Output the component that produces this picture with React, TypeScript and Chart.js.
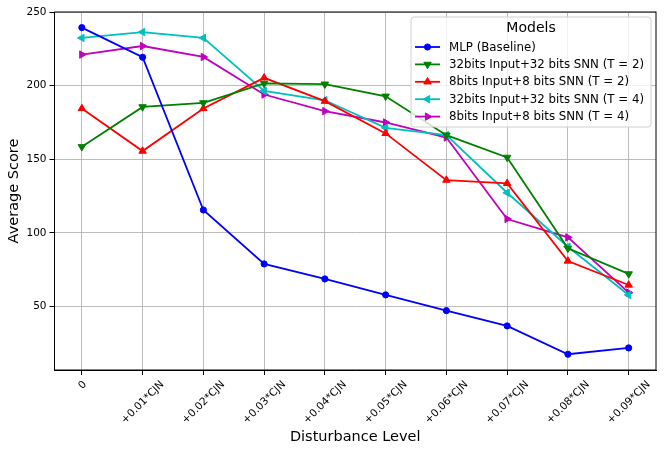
import React, { useEffect, useRef } from "react";
import { Chart, registerables } from "chart.js";

Chart.register(...registerables);

const categories = [
  "0",
  "+0.01*CJN",
  "+0.02*CJN",
  "+0.03*CJN",
  "+0.04*CJN",
  "+0.05*CJN",
  "+0.06*CJN",
  "+0.07*CJN",
  "+0.08*CJN",
  "+0.09*CJN",
];
const mlpBaseline = [239.4, 219.3, 115.6, 79, 68.8, 58, 47.3, 36.9, 17.7, 22];
const snn32T2 = [158.5, 185.6, 188.3, 201.5, 201, 192.8, 166.4, 151.3, 89.6, 72.2];
const snn8T2 = [184.5, 155.6, 184.5, 205.3, 189.5, 167.6, 135.9, 133.7, 81, 64.7];
const snn32T4 = [232.4, 236.4, 232.4, 196.4, 190.1, 171.4, 166.4, 127.3, 90.7, 57.9];
const snn8T4 = [221.1, 226.9, 219.5, 194, 182.7, 175, 164.8, 109.5, 97, 59.5];
const yTicks = [50, 100, 150, 200, 250];
const seriesLabels = [
  "MLP (Baseline)",
  "32bits Input+32 bits SNN (T = 2)",
  "8bits Input+8 bits SNN (T = 2)",
  "32bits Input+32 bits SNN (T = 4)",
  "8bits Input+8 bits SNN (T = 4)",
];
const legendTitle = "Models";

const FONT = '"DejaVu Sans", sans-serif';

function drawMarker(ctx: CanvasRenderingContext2D, style: string, rotDeg: number, r: number, x: number, y: number) {
  ctx.beginPath();
  if (style === "circle") {
    ctx.arc(x, y, r, 0, Math.PI * 2);
  } else {
    let rad = (rotDeg * Math.PI) / 180;
    const step = (2 * Math.PI) / 3;
    ctx.moveTo(x + Math.sin(rad) * r, y - Math.cos(rad) * r);
    rad += step;
    ctx.lineTo(x + Math.sin(rad) * r, y - Math.cos(rad) * r);
    rad += step;
    ctx.lineTo(x + Math.sin(rad) * r, y - Math.cos(rad) * r);
    ctx.closePath();
  }
  ctx.fill();
  ctx.stroke();
}

const frameLegendPlugin = {
  id: "frameLegend",
  afterDatasetsDraw(chart: any) {
    const { ctx, chartArea } = chart;
    const { left, right, top, bottom } = chartArea;
    ctx.save();
    ctx.strokeStyle = "#000";
    ctx.lineWidth = 1;
    ctx.strokeRect(left, top, right - left, bottom - top);

    // rotated x tick labels, centred on their ticks (matplotlib style)
    const xs = chart.scales.x;
    ctx.font = `10.5px ${FONT}`;
    ctx.fillStyle = "#000";
    ctx.textAlign = "center";
    ctx.textBaseline = "alphabetic";
    categories.forEach((lab, i) => {
      const px = xs.getPixelForValue(i);
      const m = ctx.measureText(lab);
      const asc = m.actualBoundingBoxAscent;
      const desc = m.actualBoundingBoxDescent;
      const w = m.width;
      const h = asc + desc;
      const half = (w + h) / (2 * Math.SQRT2);
      const cy = bottom + 5 + 4 + half;
      ctx.save();
      ctx.translate(px, cy);
      ctx.rotate(-Math.PI / 4);
      ctx.fillText(lab, 0, (asc - desc) / 2);
      ctx.restore();
    });

    // legend
    ctx.font = `11.8px ${FONT}`;
    const datasets = chart.data.datasets;
    const maxW = Math.max(...datasets.map((d: any) => ctx.measureText(d.label).width));
    const boxW = 38 + maxW + 7;
    const boxH = 110;
    const boxX = right - 5 - boxW;
    const boxY = top + 5;
    ctx.beginPath();
    const rr = 3;
    ctx.moveTo(boxX + rr, boxY);
    ctx.lineTo(boxX + boxW - rr, boxY);
    ctx.arcTo(boxX + boxW, boxY, boxX + boxW, boxY + rr, rr);
    ctx.lineTo(boxX + boxW, boxY + boxH - rr);
    ctx.arcTo(boxX + boxW, boxY + boxH, boxX + boxW - rr, boxY + boxH, rr);
    ctx.lineTo(boxX + rr, boxY + boxH);
    ctx.arcTo(boxX, boxY + boxH, boxX, boxY + boxH - rr, rr);
    ctx.lineTo(boxX, boxY + rr);
    ctx.arcTo(boxX, boxY, boxX + rr, boxY, rr);
    ctx.closePath();
    ctx.fillStyle = "rgba(255,255,255,0.8)";
    ctx.fill();
    ctx.strokeStyle = "#d0d0d0";
    ctx.lineWidth = 1;
    ctx.stroke();

    ctx.fillStyle = "#000";
    ctx.textAlign = "center";
    ctx.textBaseline = "middle";
    ctx.font = `14px ${FONT}`;
    ctx.fillText(legendTitle, boxX + boxW / 2, boxY + 11);

    ctx.font = `11.8px ${FONT}`;
    ctx.textAlign = "left";
    datasets.forEach((d: any, i: number) => {
      const y = boxY + 30 + i * 17.4;
      ctx.strokeStyle = d.borderColor;
      ctx.lineWidth = d.borderWidth;
      ctx.beginPath();
      ctx.moveTo(boxX + 4, y);
      ctx.lineTo(boxX + 29, y);
      ctx.stroke();
      ctx.fillStyle = d.pointBackgroundColor;
      ctx.strokeStyle = d.pointBorderColor;
      ctx.lineWidth = d.pointBorderWidth;
      drawMarker(ctx, d.pointStyle, d.pointRotation, d.pointRadius, boxX + 16.5, y);
      ctx.fillStyle = "#000";
      ctx.fillText(d.label, boxX + 38, y + 0.5);
    });
    ctx.restore();
  },
};

export default function App() {
  const canvasRef = useRef<HTMLCanvasElement | null>(null);

  useEffect(() => {
    if (!canvasRef.current) return;
    const toXY = (arr: number[]) => arr.map((v, i) => ({ x: i, y: v }));
    const mk = (label: string, data: number[], color: string, style: string, rot: number, r: number) => ({
      label,
      data: toXY(data),
      borderColor: color,
      backgroundColor: color,
      pointBackgroundColor: color,
      pointBorderColor: color,
      pointBorderWidth: 1,
      borderWidth: 1.8,
      pointStyle: style,
      pointRotation: rot,
      pointRadius: r,
      pointHoverRadius: r,
      tension: 0,
      fill: false,
    });
    const gridColor = "rgba(176,176,176,0.85)";
    const chart = new Chart(canvasRef.current, {
      type: "line",
      data: {
        datasets: [
          mk(seriesLabels[0], mlpBaseline, "#0000ff", "circle", 0, 3.1),
          mk(seriesLabels[1], snn32T2, "#008000", "triangle", 180, 4.3),
          mk(seriesLabels[2], snn8T2, "#ff0000", "triangle", 0, 4.3),
          mk(seriesLabels[3], snn32T4, "#00bfbf", "triangle", 270, 4.3),
          mk(seriesLabels[4], snn8T4, "#bf00bf", "triangle", 90, 4.3),
        ] as any,
      },
      options: {
        responsive: false,
        animation: false,
        devicePixelRatio: 1,
        layout: { padding: { top: 12, right: 8, left: 0, bottom: 0 } },
        plugins: {
          legend: { display: false },
          tooltip: { enabled: false },
        },
        scales: {
          x: {
            type: "linear",
            min: -0.45,
            max: 9.45,
            afterBuildTicks: (s: any) => {
              s.ticks = categories.map((_, i) => ({ value: i }));
            },
            afterFit: (s: any) => {
              s.height = 83;
            },
            ticks: {
              display: true,
              autoSkip: false,
              minRotation: 45,
              maxRotation: 45,
              color: "rgba(0,0,0,0)",
              font: { family: FONT, size: 10.5 },
              callback: (v: any) => categories[Math.round(Number(v))],
            },
            grid: { color: gridColor, lineWidth: 1, tickColor: "#000", tickLength: 5, drawTicks: true },
            border: { color: "#000", width: 1 },
            title: {
              display: true,
              text: "Disturbance Level",
              color: "#000",
              font: { family: FONT, size: 14.5 },
              padding: { top: 0, bottom: 7 },
            },
          },
          y: {
            type: "linear",
            min: 7,
            max: 250,
            afterBuildTicks: (s: any) => {
              s.ticks = yTicks.map((v) => ({ value: v }));
            },
            afterFit: (s: any) => {
              s.width = 54.5;
            },
            ticks: {
              padding: 3,
              color: "#000",
              font: { family: FONT, size: 10.5 },
            },
            grid: { color: gridColor, lineWidth: 1, tickColor: "#000", tickLength: 5 },
            border: { color: "#000", width: 1 },
            title: {
              display: true,
              text: "Average Score",
              color: "#000",
              font: { family: FONT, size: 14.5 },
              padding: { top: 6, bottom: 0 },
            },
          },
        },
      } as any,
      plugins: [frameLegendPlugin],
    });
    return () => chart.destroy();
  }, []);

  return (
    <div style={{ position: "absolute", left: 0, top: 0, width: 664, height: 453, background: "#fff" }}>
      <canvas ref={canvasRef} width={664} height={453} style={{ width: 664, height: 453, display: "block" }} />
    </div>
  );
}
